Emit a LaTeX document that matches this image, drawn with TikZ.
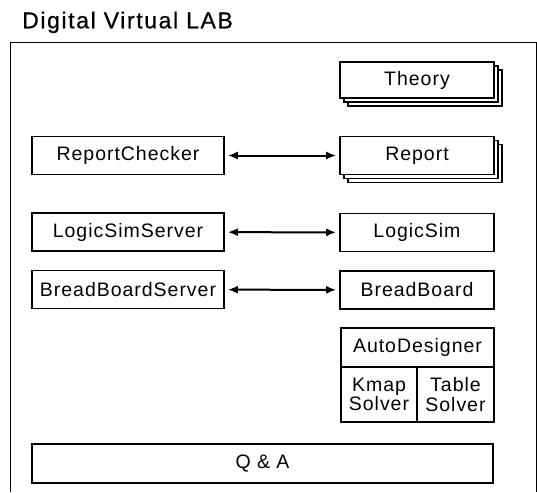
\documentclass[tikz,border=0pt]{standalone}
\usepackage{fontspec}
\setmainfont{Liberation Sans}
\newfontfamily\boxfont[LetterSpace=5]{Liberation Sans}
\newfontfamily\titlefont[LetterSpace=7,FakeBold=0.6]{Liberation Sans}
\usetikzlibrary{arrows.meta}
\begin{document}
\begin{tikzpicture}[x=1pt,y=-1pt,
  box/.style={draw, line width=1.6pt, fill=white, inner sep=0pt, align=center,
    font=\boxfont\fontsize{19.5}{19.5}\selectfont},
  lbox/.style={box, minimum width=192pt, minimum height=38pt},
  rbox/.style={box, minimum width=154pt, minimum height=38pt},
  link/.style={{Latex[length=10pt,width=8pt]}-{Latex[length=10pt,width=8pt]}, line width=2pt, shorten <=3pt, shorten >=3pt}
]
\useasboundingbox (0,0) rectangle (537,492);
\node[anchor=base west, inner sep=0pt, font=\titlefont\fontsize{23}{26}\selectfont] (title) at (22,28.3) {Digital Virtual LAB};
\draw[line width=1pt] (10,492) -- (10,43) -- (536,43) -- (536,492);

% Theory stack
\node[box, minimum width=154pt, minimum height=36pt] (theory2) at (425,88) {};
\node[box, minimum width=154pt, minimum height=36pt] (theory1) at (421,84) {};
\node[box, minimum width=154pt, minimum height=36pt] (theory) at (417,80) {Theory};

% Report stack
\node[rbox] (report2) at (425,163.5) {};
\node[rbox] (report1) at (421,159.5) {};
\node[rbox] (report) at (417,155.5) {Report};

\node[lbox] (rc) at (128,155.5) {ReportChecker};
\node[lbox] (lss) at (128,232) {LogicSimServer};
\node[lbox] (bbs) at (128,289.5) {BreadBoardServer};

\node[rbox] (ls) at (417,232.5) {LogicSim};
\node[rbox] (bb) at (417,290) {BreadBoard};

% AutoDesigner
\node[box, minimum width=153pt, minimum height=39pt] (ad) at (417.5,347.5) {AutoDesigner};
\node[box, minimum width=76pt, minimum height=55pt] (kmap) at (379,394.5) {Kmap\\Solver};
\node[box, minimum width=77pt, minimum height=55pt] (table) at (455.5,394.5) {Table\\Solver};

\node[box, minimum width=461pt, minimum height=39pt] (qa) at (262.5,463.5) {Q \& A};

\draw[link] (rc) -- (report);
\draw[link] (lss) -- (ls);
\draw[link] (bbs) -- (bb);
\end{tikzpicture}
\end{document}
